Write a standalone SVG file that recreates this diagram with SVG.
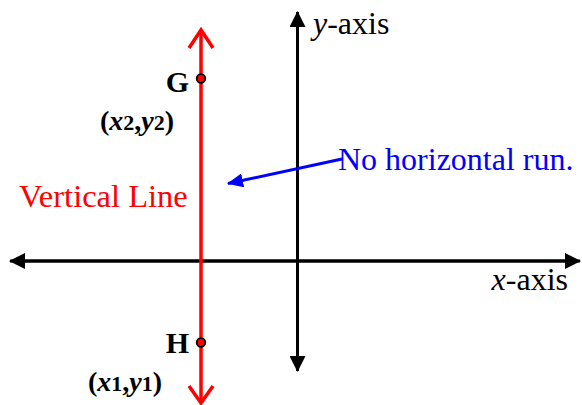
<svg xmlns="http://www.w3.org/2000/svg" width="582" height="405" viewBox="0 0 582 405">
<style>
.serif{font-family:"Liberation Serif","Times New Roman",serif}
.axis{stroke:#000;stroke-width:3;fill:none}
.pt{font-size:28px;font-weight:bold}
.big{font-size:30px}
.sub{font-size:22px}
</style>
<defs>
<marker id="blk" viewBox="0 0 16 16" refX="15" refY="8" markerWidth="16" markerHeight="16" markerUnits="userSpaceOnUse" orient="auto">
<path d="M0,0 L16,8 L0,16 Z" fill="#000"/>
</marker>
<marker id="blu" viewBox="0 0 16 14" refX="15" refY="7" markerWidth="16" markerHeight="14" markerUnits="userSpaceOnUse" orient="auto">
<path d="M0,0 L16,7 L0,14 Z" fill="#0000ff"/>
</marker>
</defs>
<g id="connectors">
<line class="axis" x1="25" y1="261" x2="580" y2="261" marker-end="url(#blk)"/>
<line class="axis" x1="566" y1="261" x2="10" y2="261" marker-end="url(#blk)"/>
<line class="axis" x1="297.5" y1="360" x2="297.5" y2="12" marker-end="url(#blk)"/>
<line class="axis" x1="297.5" y1="26" x2="297.5" y2="371" marker-end="url(#blk)"/>
<line x1="342" y1="159" x2="228" y2="183.5" stroke="#0000ff" stroke-width="3" marker-end="url(#blu)"/>
</g>
<g id="vertical-line">
<line x1="201" y1="30" x2="201" y2="402" stroke="#ff0000" stroke-width="3.5"/>
<polyline points="189,48 201,30 213,48" fill="none" stroke="#ff0000" stroke-width="3.5"/>
<polyline points="189,386 201,403 213,386" fill="none" stroke="#ff0000" stroke-width="3.5"/>
</g>
<g id="point-G">
<circle cx="201" cy="78.5" r="4.3" fill="#ff0000" stroke="#000" stroke-width="1.8"/>
<text class="serif pt big" x="189" y="92" text-anchor="end">G</text>
<text class="serif pt" x="100" y="130">(<tspan font-style="italic">x</tspan><tspan class="sub">2</tspan>,<tspan font-style="italic">y</tspan><tspan class="sub">2</tspan>)</text>
</g>
<g id="point-H">
<circle cx="201" cy="342.5" r="4.3" fill="#ff0000" stroke="#000" stroke-width="1.8"/>
<text class="serif pt big" x="189" y="353" text-anchor="end">H</text>
<text class="serif pt" x="88" y="391">(<tspan font-style="italic">x</tspan><tspan class="sub">1</tspan>,<tspan font-style="italic">y</tspan><tspan class="sub">1</tspan>)</text>
</g>
<g id="labels">
<text class="serif" x="19" y="207" fill="#ff0000" font-size="32.5">Vertical Line</text>
<text class="serif" x="338" y="170" fill="#0000ff" font-size="32">No horizontal run.</text>
<text class="serif" x="313" y="34" font-size="32"><tspan font-style="italic">y</tspan>-axis</text>
<text class="serif" x="568" y="290" text-anchor="end" font-size="32"><tspan font-style="italic">x</tspan>-axis</text>
</g>
</svg>
